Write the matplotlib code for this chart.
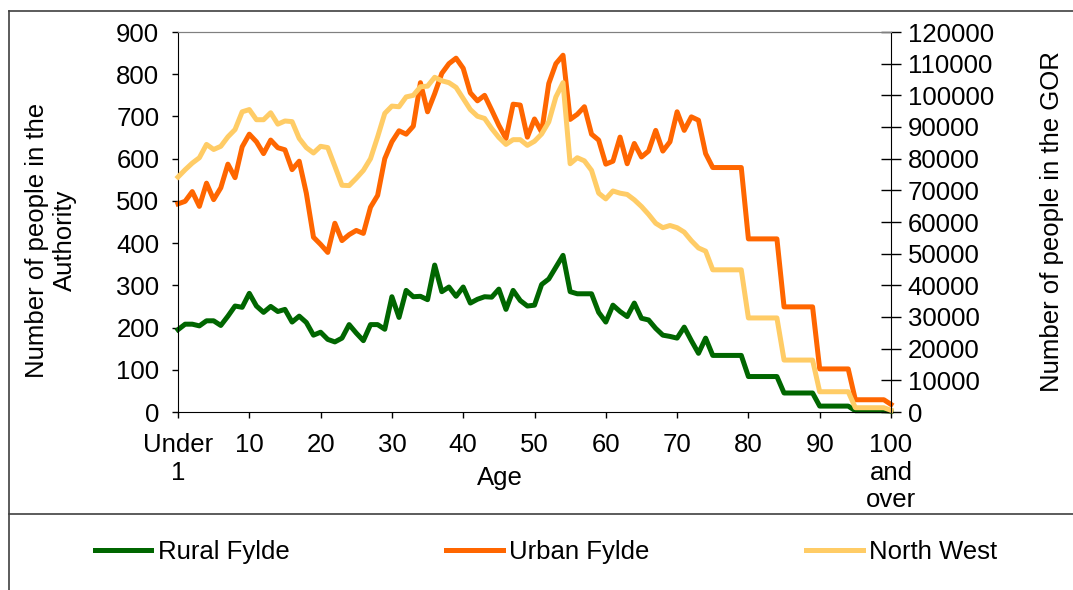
# Population by single year of age: Rural Fylde, Urban Fylde (left axis)
# and North West (right axis)
import matplotlib
matplotlib.use('Agg')
import matplotlib.pyplot as plt
from matplotlib.lines import Line2D

plt.rcParams['font.family'] = ['Liberation Sans', 'DejaVu Sans']
plt.rcParams['font.size'] = 18.5

# data
ages = list(range(101))
tick_pos = [0, 10, 20, 30, 40, 50, 60, 70, 80, 90, 100]
tick_labels = ['Under\n1', '10', '20', '30', '40', '50', '60', '70', '80', '90', '100\nand\nover']

rural = [195, 208, 208, 204, 216, 216, 205, 227, 251, 248,
         281, 251, 236, 250, 238, 243, 213, 227, 212, 182,
         189, 172, 166, 175, 207, 187, 169, 207, 207, 196,
         273, 224, 288, 273, 274, 266, 348, 285, 296, 274,
         296, 258, 267, 273, 272, 291, 243, 288, 264, 251,
         253, 302, 315, 343, 371, 285, 280, 280, 280, 236,
         213, 253, 238, 226, 258, 222, 218, 198, 182, 179,
         175, 201, 169, 139, 175, 134, 134, 134, 134, 134,
         84, 84, 84, 84, 84, 45, 45, 45, 45, 45,
         14, 14, 14, 14, 14, 3, 3, 3, 3, 3, 2]

urban = [493, 499, 522, 487, 542, 503, 531, 587, 555, 628,
         658, 640, 612, 644, 626, 621, 574, 594, 518, 414,
         397, 378, 447, 406, 420, 430, 423, 485, 513, 600,
         640, 666, 658, 677, 780, 711, 754, 802, 825, 838,
         814, 756, 737, 750, 715, 679, 648, 729, 727, 651,
         694, 663, 778, 825, 845, 693, 705, 723, 658, 644,
         587, 594, 651, 588, 636, 604, 618, 667, 618, 640,
         711, 667, 699, 691, 612, 579, 579, 579, 579, 579,
         410, 410, 410, 410, 410, 249, 249, 249, 249, 249,
         102, 102, 102, 102, 102, 29, 29, 29, 29, 29, 18]

north_west = [74200, 76500, 78600, 80300, 84500, 82900, 83900, 86900, 89200, 94800,
              95500, 92300, 92300, 94500, 90900, 91900, 91700, 86400, 83500, 81800,
              83900, 83500, 77600, 71600, 71500, 73800, 76300, 80000, 86900, 94300,
              96600, 96400, 99500, 100000, 102700, 102900, 105700, 104600, 104000, 102500,
              99000, 95500, 93400, 92700, 89500, 86700, 84500, 86000, 86000, 84200,
              85500, 87800, 91600, 99500, 104000, 78400, 80300, 79300, 76300, 69100,
              67300, 69800, 69100, 68700, 67000, 64900, 62400, 59600, 58200, 58900,
              58200, 56800, 54100, 51800, 50800, 44900, 44900, 44900, 44900, 44900,
              29700, 29700, 29700, 29700, 29700, 16400, 16400, 16400, 16400, 16400,
              6400, 6400, 6400, 6400, 6400, 1350, 1350, 1350, 1350, 1350, 540]

W, H = 1073, 590
fig = plt.figure(figsize=(W / 100, H / 100), dpi=100)
ax = fig.add_axes([178 / W, 1 - 412 / H, (891 - 178) / W, (412 - 32) / H])
ax2 = ax.twinx()

l1, = ax.plot(ages, rural, color='#006600', lw=3.6, clip_on=False, label='Rural Fylde')
l2, = ax.plot(ages, urban, color='#FF6600', lw=3.6, clip_on=False, label='Urban Fylde')
l3, = ax2.plot(ages, north_west, color='#FFCC66', lw=3.6, clip_on=False, label='North West')

ax.set_xlim(0, 100)
ax.set_ylim(0, 900)
ax.set_yticks(range(0, 901, 100))
ax.set_xticks(tick_pos)
ax.set_xticklabels(tick_labels)
ax2.set_ylim(0, 120000)
ax2.set_yticks(range(0, 120001, 10000))

ax.tick_params(axis='x', direction='out', length=4, width=1, pad=11)
ax.tick_params(axis='y', direction='out', length=4.5, width=1, pad=9)
ax2.tick_params(axis='y', direction='inout', length=14, width=1, pad=5)

# spines
for a in (ax, ax2):
    a.spines['top'].set_color('#808080')
for s in ('left', 'bottom'):
    ax2.spines[s].set_visible(False)
ax.spines['right'].set_visible(False)
ax.spines['left'].set_color('black')
ax.spines['bottom'].set_color('black')
ax2.spines['right'].set_color('black')

# axis titles
fig.text(51 / W, 1 - 240 / H, 'Number of people in the\nAuthority', rotation=90,
         ha='center', va='center', multialignment='center')
fig.text(1052 / W, 1 - 222 / H, 'Number of people in the GOR', rotation=90,
         ha='center', va='center')
fig.text(500 / W, 1 - 478 / H, 'Age', ha='center', va='center')

# legend
fig.legend(handles=[l1, l2, l3], ncol=3, loc='center',
           bbox_to_anchor=(546 / W, 1 - 552 / H), frameon=False,
           handlelength=2.2, handletextpad=0.25, columnspacing=6.1)

# chart area border lines
edge = '#404040'
fig.add_artist(Line2D([9 / W, 9 / W], [0, 1 - 11 / H], transform=fig.transFigure, color=edge, lw=1.2))
fig.add_artist(Line2D([9 / W, 1], [1 - 11 / H, 1 - 11 / H], transform=fig.transFigure, color=edge, lw=1.2))
fig.add_artist(Line2D([9 / W, 1], [1 - 514 / H, 1 - 514 / H], transform=fig.transFigure, color=edge, lw=1.2))

fig.savefig('out.png', dpi=100)
